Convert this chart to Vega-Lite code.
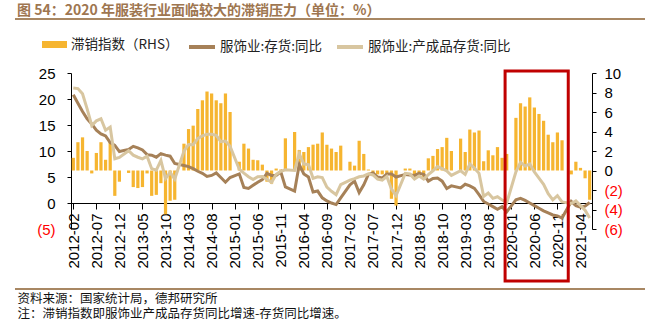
{
  "$schema": "https://vega.github.io/schema/vega-lite/v6.json",
  "width": 521,
  "height": 156,
  "autosize": {"type": "none"},
  "padding": {"left": 71, "top": 73, "right": 53, "bottom": 92},
  "background": "white",
  "config": {
    "view": {"stroke": null},
    "font": "Liberation Sans",
    "axis": {"labelFont": "Liberation Sans", "labelColor": "black", "domainColor": "black", "tickColor": "black", "grid": false}
  },
  "title": {
    "text": "图 54：2020 年服装行业面临较大的滞销压力（单位：%）",
    "anchor": "start",
    "frame": "group",
    "dx": -54,
    "dy": 4,
    "font": "Noto Sans CJK SC",
    "fontSize": 14,
    "fontWeight": "bold",
    "color": "#9E7650"
  },
  "data": {
    "values": [
      {"date": "2012-02", "idx": 1.3, "inv": 20.8, "fg": 22.1},
      {"date": "2012-03", "idx": 2.9, "inv": 19.2, "fg": 22.0},
      {"date": "2012-04", "idx": 3.4, "inv": 17.6, "fg": 21.0},
      {"date": "2012-05", "idx": 2.0, "inv": 16.2, "fg": 18.1},
      {"date": "2012-06", "idx": -0.3, "inv": 15.2, "fg": 14.9},
      {"date": "2012-07", "idx": 1.8, "inv": 14.0, "fg": 15.8},
      {"date": "2012-08", "idx": 2.9, "inv": 13.3, "fg": 16.2},
      {"date": "2012-09", "idx": 1.1, "inv": 12.9, "fg": 14.0},
      {"date": "2012-10", "idx": 3.0, "inv": 11.6, "fg": 14.6},
      {"date": "2012-11", "idx": -2.6, "inv": 11.1, "fg": 8.5},
      {"date": "2012-12", "idx": -1.15, "inv": 9.9, "fg": 8.75},
      {"date": "2013-01", "idx": null, "inv": null, "fg": null},
      {"date": "2013-02", "idx": -0.25, "inv": 10.3, "fg": 10.05},
      {"date": "2013-03", "idx": -1.7, "inv": 10.9, "fg": 9.2},
      {"date": "2013-04", "idx": -1.8, "inv": 10.6, "fg": 8.8},
      {"date": "2013-05", "idx": -1.7, "inv": 10.2, "fg": 8.5},
      {"date": "2013-06", "idx": -0.3, "inv": 9.3, "fg": 9.0},
      {"date": "2013-07", "idx": -2.6, "inv": 9.2, "fg": 6.6},
      {"date": "2013-08", "idx": -2.5, "inv": 8.8, "fg": 6.3},
      {"date": "2013-09", "idx": -1.3, "inv": 9.5, "fg": 8.2},
      {"date": "2013-10", "idx": -4.5, "inv": 9.2, "fg": 4.7},
      {"date": "2013-11", "idx": -3.1, "inv": 9.0, "fg": 5.9},
      {"date": "2013-12", "idx": -3.0, "inv": 7.6, "fg": 4.6},
      {"date": "2014-01", "idx": null, "inv": null, "fg": null},
      {"date": "2014-02", "idx": 2.75, "inv": 7.2, "fg": 9.95},
      {"date": "2014-03", "idx": 4.25, "inv": 7.0, "fg": 11.25},
      {"date": "2014-04", "idx": 4.6, "inv": 6.6, "fg": 11.2},
      {"date": "2014-05", "idx": 6.3, "inv": 6.1, "fg": 12.4},
      {"date": "2014-06", "idx": 7.2, "inv": 5.7, "fg": 12.9},
      {"date": "2014-07", "idx": 8.1, "inv": 5.1, "fg": 13.2},
      {"date": "2014-08", "idx": 7.9, "inv": 5.3, "fg": 13.2},
      {"date": "2014-09", "idx": 7.2, "inv": 5.8, "fg": 13.0},
      {"date": "2014-10", "idx": 6.9, "inv": 4.9, "fg": 11.8},
      {"date": "2014-11", "idx": 7.9, "inv": 4.0, "fg": 11.9},
      {"date": "2014-12", "idx": 6.0, "inv": 4.9, "fg": 10.9},
      {"date": "2015-01", "idx": null, "inv": null, "fg": null},
      {"date": "2015-02", "idx": 0.9, "inv": 5.6, "fg": 6.5},
      {"date": "2015-03", "idx": 2.75, "inv": 3.0, "fg": 5.75},
      {"date": "2015-04", "idx": 2.25, "inv": 2.8, "fg": 5.05},
      {"date": "2015-05", "idx": 1.1, "inv": 3.4, "fg": 4.5},
      {"date": "2015-06", "idx": 1.05, "inv": 4.0, "fg": 5.05},
      {"date": "2015-07", "idx": 0.6, "inv": 4.5, "fg": 5.1},
      {"date": "2015-08", "idx": -1.15, "inv": 5.7, "fg": 4.55},
      {"date": "2015-09", "idx": -1.35, "inv": 5.3, "fg": 3.95},
      {"date": "2015-10", "idx": 0.2, "inv": 5.3, "fg": 5.5},
      {"date": "2015-11", "idx": 0.1, "inv": 6.0, "fg": 6.1},
      {"date": "2015-12", "idx": 3.3, "inv": 3.1, "fg": 6.4},
      {"date": "2016-01", "idx": null, "inv": null, "fg": null},
      {"date": "2016-02", "idx": 3.95, "inv": 2.3, "fg": 6.25},
      {"date": "2016-03", "idx": 2.1, "inv": 7.4, "fg": 9.5},
      {"date": "2016-04", "idx": 1.9, "inv": 5.6, "fg": 7.5},
      {"date": "2016-05", "idx": 2.4, "inv": 5.0, "fg": 7.4},
      {"date": "2016-06", "idx": 2.65, "inv": 2.1, "fg": 4.75},
      {"date": "2016-07", "idx": 2.75, "inv": 2.3, "fg": 5.05},
      {"date": "2016-08", "idx": 3.9, "inv": 1.0, "fg": 4.9},
      {"date": "2016-09", "idx": 2.65, "inv": 0.4, "fg": 3.05},
      {"date": "2016-10", "idx": 2.25, "inv": 0.0, "fg": 2.25},
      {"date": "2016-11", "idx": 1.9, "inv": -0.3, "fg": 1.6},
      {"date": "2016-12", "idx": 2.55, "inv": 1.0, "fg": 3.55},
      {"date": "2017-01", "idx": null, "inv": null, "fg": null},
      {"date": "2017-02", "idx": 0.9, "inv": 3.5, "fg": 4.4},
      {"date": "2017-03", "idx": 0.5, "inv": 4.2, "fg": 4.7},
      {"date": "2017-04", "idx": 3.05, "inv": 2.0, "fg": 5.05},
      {"date": "2017-05", "idx": 1.7, "inv": 3.5, "fg": 5.2},
      {"date": "2017-06", "idx": 0.1, "inv": 5.5, "fg": 5.6},
      {"date": "2017-07", "idx": -0.4, "inv": 5.8, "fg": 5.4},
      {"date": "2017-08", "idx": -0.4, "inv": 5.0, "fg": 4.6},
      {"date": "2017-09", "idx": -0.4, "inv": 4.8, "fg": 4.4},
      {"date": "2017-10", "idx": -0.5, "inv": 5.6, "fg": 5.1},
      {"date": "2017-11", "idx": -2.9, "inv": 5.6, "fg": 2.7},
      {"date": "2017-12", "idx": -3.6, "inv": 5.0, "fg": 1.4},
      {"date": "2018-01", "idx": null, "inv": null, "fg": null},
      {"date": "2018-02", "idx": 0.2, "inv": 5.5, "fg": 5.7},
      {"date": "2018-03", "idx": 0.2, "inv": 5.4, "fg": 5.6},
      {"date": "2018-04", "idx": -0.7, "inv": 5.3, "fg": 4.6},
      {"date": "2018-05", "idx": -0.5, "inv": 5.7, "fg": 5.2},
      {"date": "2018-06", "idx": -0.9, "inv": 5.5, "fg": 4.6},
      {"date": "2018-07", "idx": 1.25, "inv": 4.2, "fg": 5.45},
      {"date": "2018-08", "idx": 1.5, "inv": 4.7, "fg": 6.2},
      {"date": "2018-09", "idx": 2.2, "inv": 4.8, "fg": 7.0},
      {"date": "2018-10", "idx": 2.4, "inv": 4.2, "fg": 6.6},
      {"date": "2018-11", "idx": 3.35, "inv": 2.8, "fg": 6.15},
      {"date": "2018-12", "idx": 2.0, "inv": 3.3, "fg": 5.3},
      {"date": "2019-01", "idx": null, "inv": null, "fg": null},
      {"date": "2019-02", "idx": 3.27, "inv": 2.9, "fg": 6.2},
      {"date": "2019-03", "idx": 1.9, "inv": 3.6, "fg": 5.5},
      {"date": "2019-04", "idx": 4.2, "inv": 3.3, "fg": 7.5},
      {"date": "2019-05", "idx": 3.9, "inv": 2.8, "fg": 6.7},
      {"date": "2019-06", "idx": 4.1, "inv": 1.6, "fg": 5.7},
      {"date": "2019-07", "idx": 0.95, "inv": 0.3, "fg": 1.25},
      {"date": "2019-08", "idx": 2.07, "inv": -0.2, "fg": 1.9},
      {"date": "2019-09", "idx": 1.56, "inv": -0.7, "fg": 0.9},
      {"date": "2019-10", "idx": 2.4, "inv": -1.2, "fg": 1.2},
      {"date": "2019-11", "idx": 1.3, "inv": -0.7, "fg": 0.6},
      {"date": "2019-12", "idx": 1.7, "inv": -1.7, "fg": 0.0},
      {"date": "2020-01", "idx": null, "inv": null, "fg": null},
      {"date": "2020-02", "idx": 5.4, "inv": 0.6, "fg": 6.0},
      {"date": "2020-03", "idx": 6.9, "inv": 0.9, "fg": 7.8},
      {"date": "2020-04", "idx": 6.56, "inv": 0.5, "fg": 7.1},
      {"date": "2020-05", "idx": 7.5, "inv": 0.0, "fg": 7.5},
      {"date": "2020-06", "idx": 6.46, "inv": -0.5, "fg": 6.0},
      {"date": "2020-07", "idx": 5.8, "inv": -1.0, "fg": 4.8},
      {"date": "2020-08", "idx": 5.1, "inv": -1.5, "fg": 3.6},
      {"date": "2020-09", "idx": 3.67, "inv": -1.9, "fg": 1.8},
      {"date": "2020-10", "idx": 2.9, "inv": -2.3, "fg": 0.6},
      {"date": "2020-11", "idx": 3.9, "inv": -2.5, "fg": 1.4},
      {"date": "2020-12", "idx": 3.1, "inv": -2.9, "fg": 0.2},
      {"date": "2021-01", "idx": null, "inv": null, "fg": null},
      {"date": "2021-02", "idx": -0.4, "inv": 0.3, "fg": -0.1},
      {"date": "2021-03", "idx": 0.9, "inv": -0.5, "fg": 0.4},
      {"date": "2021-04", "idx": 0.27, "inv": -0.8, "fg": -0.5},
      {"date": "2021-05", "idx": -0.8, "inv": -0.6, "fg": -1.4},
      {"date": "2021-06", "idx": -3.0, "inv": 0.1, "fg": -2.9}
    ]
  },
  "layer": [
    {
      "mark": {"type": "bar"},
      "encoding": {
        "x": {
          "field": "date", "type": "ordinal",
          "scale": {"type": "band", "paddingInner": 0.3, "paddingOuter": 0.15, "domain": ["2012-02","2012-03","2012-04","2012-05","2012-06","2012-07","2012-08","2012-09","2012-10","2012-11","2012-12","2013-01","2013-02","2013-03","2013-04","2013-05","2013-06","2013-07","2013-08","2013-09","2013-10","2013-11","2013-12","2014-01","2014-02","2014-03","2014-04","2014-05","2014-06","2014-07","2014-08","2014-09","2014-10","2014-11","2014-12","2015-01","2015-02","2015-03","2015-04","2015-05","2015-06","2015-07","2015-08","2015-09","2015-10","2015-11","2015-12","2016-01","2016-02","2016-03","2016-04","2016-05","2016-06","2016-07","2016-08","2016-09","2016-10","2016-11","2016-12","2017-01","2017-02","2017-03","2017-04","2017-05","2017-06","2017-07","2017-08","2017-09","2017-10","2017-11","2017-12","2018-01","2018-02","2018-03","2018-04","2018-05","2018-06","2018-07","2018-08","2018-09","2018-10","2018-11","2018-12","2019-01","2019-02","2019-03","2019-04","2019-05","2019-06","2019-07","2019-08","2019-09","2019-10","2019-11","2019-12","2020-01","2020-02","2020-03","2020-04","2020-05","2020-06","2020-07","2020-08","2020-09","2020-10","2020-11","2020-12","2021-01","2021-02","2021-03","2021-04","2021-05","2021-06"]},
          "axis": {
            "orient": "bottom", "labels": false, "ticks": false, "domain": false,
            "title": ["资料来源：国家统计局，德邦研究所", "注：滞销指数即服饰业产成品存货同比增速-存货同比增速。"],
            "titleAnchor": "start", "titleAlign": "left", "titleX": -54, "titleY": 73, "titleBaseline": "alphabetic",
            "titleFont": "Noto Sans CJK SC", "titleFontSize": 12.5, "titleFontWeight": "normal", "titleLineHeight": 15, "titleColor": "#111111"
          }
        },
        "y": {
          "field": "idx", "type": "quantitative",
          "scale": {"domain": [-6, 10], "nice": false, "zero": false},
          "axis": {
            "orient": "right", "values": [-6, -4, -2, 0, 2, 4, 6, 8, 10], "title": null,
            "labelFontSize": 15, "tickSize": 4, "labelPadding": 8,
            "labelExpr": "datum.value < 0 ? '(' + format(-datum.value, 'd') + ')' : format(datum.value, 'd')",
            "labelColor": {"condition": {"test": "datum.value < 0", "value": "#FF0000"}, "value": "black"}
          }
        },
        "fill": {
          "datum": "滞销指数（RHS）", "type": "nominal",
          "scale": {"range": ["#F6B530"]},
          "legend": {
            "orient": "none", "legendX": -29, "legendY": -41, "title": null, "padding": 0,
            "symbolType": "M-1,-0.28H1V0.28H-1Z", "symbolSize": 625, "symbolStrokeWidth": 0,
            "labelFont": "Noto Sans CJK SC", "labelFontSize": 13.5, "labelOffset": 4, "labelColor": "#222222"
          }
        }
      }
    },
    {
      "transform": [
        {"fold": ["inv", "fg"], "as": ["series", "value"]},
        {"filter": "isValid(datum.value)"}
      ],
      "mark": {"type": "line", "strokeWidth": 3},
      "encoding": {
        "x": {
          "field": "date", "type": "ordinal",
          "scale": {"type": "point", "padding": 0.5, "domain": ["2012-02","2012-03","2012-04","2012-05","2012-06","2012-07","2012-08","2012-09","2012-10","2012-11","2012-12","2013-01","2013-02","2013-03","2013-04","2013-05","2013-06","2013-07","2013-08","2013-09","2013-10","2013-11","2013-12","2014-01","2014-02","2014-03","2014-04","2014-05","2014-06","2014-07","2014-08","2014-09","2014-10","2014-11","2014-12","2015-01","2015-02","2015-03","2015-04","2015-05","2015-06","2015-07","2015-08","2015-09","2015-10","2015-11","2015-12","2016-01","2016-02","2016-03","2016-04","2016-05","2016-06","2016-07","2016-08","2016-09","2016-10","2016-11","2016-12","2017-01","2017-02","2017-03","2017-04","2017-05","2017-06","2017-07","2017-08","2017-09","2017-10","2017-11","2017-12","2018-01","2018-02","2018-03","2018-04","2018-05","2018-06","2018-07","2018-08","2018-09","2018-10","2018-11","2018-12","2019-01","2019-02","2019-03","2019-04","2019-05","2019-06","2019-07","2019-08","2019-09","2019-10","2019-11","2019-12","2020-01","2020-02","2020-03","2020-04","2020-05","2020-06","2020-07","2020-08","2020-09","2020-10","2020-11","2020-12","2021-01","2021-02","2021-03","2021-04","2021-05","2021-06"]},
          "axis": {
            "orient": "bottom", "offset": -26, "title": null,
            "values": ["2012-02","2012-07","2012-12","2013-05","2013-10","2014-03","2014-08","2015-01","2015-06","2015-11","2016-04","2016-09","2017-02","2017-07","2017-12","2018-05","2018-10","2019-03","2019-08","2020-01","2020-06","2020-11","2021-04"],
            "labelAngle": -90, "labelFontSize": 15, "labelOverlap": false, "tickSize": 6, "labelPadding": 4
          }
        },
        "y": {
          "field": "value", "type": "quantitative",
          "scale": {"domain": [-5, 25], "nice": false, "zero": false},
          "axis": {
            "orient": "left", "values": [-5, 0, 5, 10, 15, 20, 25], "title": null,
            "labelFontSize": 15, "tickSize": 4, "labelPadding": 12,
            "labelExpr": "datum.value < 0 ? '(' + format(-datum.value, 'd') + ')' : format(datum.value, 'd')",
            "labelColor": {"condition": {"test": "datum.value < 0", "value": "#FF0000"}, "value": "black"},
            "tickColor": {"condition": {"test": "datum.value < 0", "value": "transparent"}, "value": "black"}
          }
        },
        "stroke": {
          "field": "series", "type": "nominal",
          "scale": {"domain": ["inv", "fg"], "range": ["#A68158", "#D8C6A0"]},
          "legend": {
            "orient": "none", "direction": "horizontal", "legendX": 116, "legendY": -41, "title": null, "padding": 0,
            "columnPadding": 6, "symbolType": "stroke", "symbolSize": 676, "symbolStrokeWidth": 4,
            "labelFont": "Noto Sans CJK SC", "labelFontSize": 13.5, "labelOffset": 3, "labelColor": "#222222",
            "labelExpr": "datum.label == 'inv' ? '服饰业:存货:同比' : '服饰业:产成品存货:同比'"
          }
        }
      }
    },
    {
      "data": {"values": [{}]},
      "mark": {"type": "rect", "fill": "transparent", "stroke": "#C00000", "strokeWidth": 3},
      "encoding": {
        "x": {
          "datum": "2019-12", "type": "ordinal", "bandPosition": 0,
          "scale": {"type": "band", "paddingInner": 0.3, "paddingOuter": 0.15, "domain": ["2012-02","2012-03","2012-04","2012-05","2012-06","2012-07","2012-08","2012-09","2012-10","2012-11","2012-12","2013-01","2013-02","2013-03","2013-04","2013-05","2013-06","2013-07","2013-08","2013-09","2013-10","2013-11","2013-12","2014-01","2014-02","2014-03","2014-04","2014-05","2014-06","2014-07","2014-08","2014-09","2014-10","2014-11","2014-12","2015-01","2015-02","2015-03","2015-04","2015-05","2015-06","2015-07","2015-08","2015-09","2015-10","2015-11","2015-12","2016-01","2016-02","2016-03","2016-04","2016-05","2016-06","2016-07","2016-08","2016-09","2016-10","2016-11","2016-12","2017-01","2017-02","2017-03","2017-04","2017-05","2017-06","2017-07","2017-08","2017-09","2017-10","2017-11","2017-12","2018-01","2018-02","2018-03","2018-04","2018-05","2018-06","2018-07","2018-08","2018-09","2018-10","2018-11","2018-12","2019-01","2019-02","2019-03","2019-04","2019-05","2019-06","2019-07","2019-08","2019-09","2019-10","2019-11","2019-12","2020-01","2020-02","2020-03","2020-04","2020-05","2020-06","2020-07","2020-08","2020-09","2020-10","2020-11","2020-12","2021-01","2021-02","2021-03","2021-04","2021-05","2021-06"]},
          "axis": null
        },
        "x2": {"datum": "2021-01", "bandPosition": 1},
        "y": {"datum": 25.4, "type": "quantitative", "scale": {"domain": [-5, 25], "nice": false, "zero": false}, "axis": null},
        "y2": {"datum": -15}
      }
    },
    {
      "data": {"values": [{}]},
      "mark": {"type": "rect", "fill": "#A88763", "stroke": null},
      "encoding": {
        "x": {"datum": -0.1075, "type": "quantitative", "scale": {"domain": [0, 1], "nice": false, "zero": false}, "axis": null},
        "x2": {"datum": 1.1017},
        "y": {"datum": 1.3525, "type": "quantitative", "scale": {"domain": [0, 1], "nice": false, "zero": false}, "axis": null},
        "y2": {"datum": 1.3397}
      }
    },
    {
      "data": {"values": [{}]},
      "mark": {"type": "rect", "fill": "#A88763", "stroke": null},
      "encoding": {
        "x": {"datum": -0.1075, "type": "quantitative", "scale": {"domain": [0, 1], "nice": false, "zero": false}, "axis": null},
        "x2": {"datum": 1.1017},
        "y": {"datum": -0.3782, "type": "quantitative", "scale": {"domain": [0, 1], "nice": false, "zero": false}, "axis": null},
        "y2": {"datum": -0.391}
      }
    }
  ],
  "resolve": {
    "scale": {"x": "independent", "y": "independent", "fill": "independent", "stroke": "independent"},
    "axis": {"x": "independent", "y": "independent"}
  }
}
